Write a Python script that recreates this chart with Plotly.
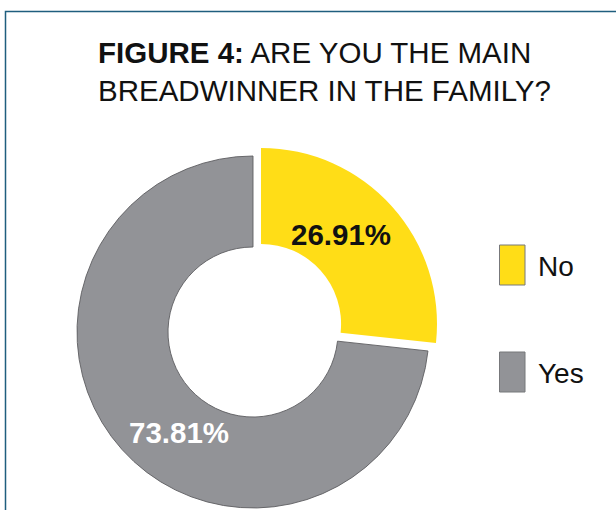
import plotly.graph_objects as go

# Survey answers and their shares (%)
answers = ["No", "Yes"]
shares = [26.91, 73.81]
colors = ["#FFDD17", "#929397"]
outline = "#5d5e61"
clear = "rgba(0,0,0,0)"

W, H = 616, 510
FONT = "Liberation Sans, Arial, Helvetica, sans-serif"


def px(x):
    return x / W


def py(y):
    return 1 - y / H


def domain(cx, cy, r):
    return dict(x=[px(cx - r), px(cx + r)], y=[py(cy + r), py(cy - r)])


R = 176
ring_center = (253, 332)
# the "No" slice sits a little out from the ring, along its mid-angle
pulled_center = (261, 324)

fig = go.Figure()

# ring of "Yes"
fig.add_trace(go.Pie(
    labels=answers, values=shares, sort=False, direction="clockwise", rotation=0,
    hole=0.483, domain=domain(*ring_center, R),
    marker=dict(colors=[clear, colors[1]],
                line=dict(color=[clear, outline], width=[0, 0.9])),
    textinfo="none", hoverinfo="label+value", showlegend=False,
))
# pulled "No" slice
fig.add_trace(go.Pie(
    labels=answers, values=shares, sort=False, direction="clockwise", rotation=0,
    hole=0.455, domain=domain(*pulled_center, R),
    marker=dict(colors=[colors[0], clear], line=dict(width=0)),
    textinfo="none", hoverinfo="label+value", showlegend=False,
))

annotations = []
# slice value labels
label_pos = [(340.5, 235), (179, 432)]
label_col = ["#111111", "#ffffff"]
for v, (x, y), c in zip(shares, label_pos, label_col):
    annotations.append(dict(
        x=px(x), y=py(y), xref="paper", yref="paper", xanchor="center", yanchor="middle",
        text=f"<b>{v:.2f}%</b>", showarrow=False,
        font=dict(family=FONT, size=29.5, color=c),
    ))

# title
annotations.append(dict(
    x=px(96), y=py(34), xref="paper", yref="paper", xanchor="left", yanchor="top",
    align="left", showarrow=False,
    text="<b>FIGURE 4:</b> ARE YOU THE MAIN<br>BREADWINNER IN THE FAMILY?",
    font=dict(family=FONT, size=29.5, color="#111111"),
))

shapes = [
    # frame around the figure
    dict(type="rect", xref="paper", yref="paper",
         x0=px(5.5), y0=py(11.5), x1=1.2, y1=-0.2,
         line=dict(color="#1f5e7e", width=1.5), fillcolor="rgba(0,0,0,0)"),
]

# legend: tall swatches with labels
legend_rows = [(245, 285), (352, 392)]
for name, col, (y0, y1) in zip(answers, colors, legend_rows):
    shapes.append(dict(type="rect", xref="paper", yref="paper",
                       x0=px(499.5), x1=px(525), y0=py(y1), y1=py(y0),
                       fillcolor=col, line=dict(color="#77787b", width=1)))
    annotations.append(dict(
        x=px(536), y=py((y0 + y1) / 2 + 1), xref="paper", yref="paper",
        xanchor="left", yanchor="middle", text=name, showarrow=False,
        font=dict(family=FONT, size=28, color="#111111"),
    ))

fig.update_layout(
    width=W, height=H, margin=dict(l=0, r=0, t=0, b=0),
    paper_bgcolor="white", plot_bgcolor="white",
    annotations=annotations, shapes=shapes, showlegend=False,
)

fig.write_html("out.html")
